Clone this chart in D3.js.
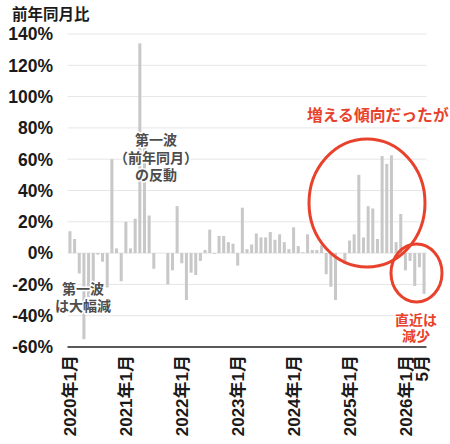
<!DOCTYPE html>
<html>
<head>
<meta charset="utf-8">
<script src="https://cdn.jsdelivr.net/npm/d3@7"></script>
<style>
  body { margin: 0; background: #fff; }
  svg { display: block; }
</style>
</head>
<body>
<div id="chart"></div>
<script>
// 前年同月比 (%), monthly, 2020年1月 – 2026年5月
const yoy2020 = [14, 9, -13, -55, -28, -26, -1, -5.5, -22, 60, 3, -18];
const yoy2021 = [20, 3, 22, 134, 75, 24, -10, 0, 0, -20, -11, 30];
const yoy2022 = [-6.5, -30, -12.5, -14, -5, 2, 15, -0.5, 11, 11, 7, 6];
const yoy2023 = [-8, 29, 2.5, 5.5, 12.5, 10, 10, 13.5, 8.5, 12, 7, 2.5];
const yoy2024 = [16.5, 4.5, 0.5, 12, 2, 2, 5, -13.5, -21.5, -30, 0, -7];
const yoy2025 = [8, 12, 50, 10, 30, 28.5, 9, 62, 57, 62.5, 7, 25];
const yoy2026 = [-11, -5, -21, -9, -26];

const tickIndex = [0, 12, 24, 36, 48, 60, 72, 76];
const tickLabels = ['2020年1月', '2021年1月', '2022年1月', '2023年1月', '2024年1月', '2025年1月', '2026年1月', '5月'];
const yTicks = [140, 120, 100, 80, 60, 40, 20, 0, -20, -40, -60];

const values = [].concat(yoy2020, yoy2021, yoy2022, yoy2023, yoy2024, yoy2025, yoy2026);

const width = 450, height = 444;
const plot = { left: 67.5, right: 426.5, top: 34, bottom: 347 };
const red = '#e8412c';
const latin = "'Liberation Sans', 'Noto Sans CJK JP', sans-serif";
const cjk = "'Noto Sans CJK JP', sans-serif";

const svg = d3.select('#chart')
  .append('svg')
  .attr('width', width)
  .attr('height', height);

const x = d3.scaleBand()
  .domain(values.map((d, i) => i))
  .range([plot.left, plot.right])
  .paddingInner(0.35)
  .paddingOuter(0.2);

const y = d3.scaleLinear()
  .domain([-60, 140])
  .range([plot.bottom, plot.top]);

// gridlines
svg.append('g')
  .selectAll('line')
  .data(yTicks.filter(d => d !== -60))
  .enter()
  .append('line')
  .attr('x1', plot.left)
  .attr('x2', plot.right)
  .attr('y1', d => y(d))
  .attr('y2', d => y(d))
  .attr('stroke', '#e6e6e6')
  .attr('stroke-width', 1);

// y tick labels
svg.append('g')
  .selectAll('text')
  .data(yTicks)
  .enter()
  .append('text')
  .attr('x', 53)
  .attr('y', d => y(d))
  .attr('dy', '0.36em')
  .attr('text-anchor', 'end')
  .attr('font-family', latin)
  .attr('font-weight', 'bold')
  .attr('font-size', 17.5)
  .attr('fill', '#1a1a1a')
  .text(d => d + '%');

// bars
svg.append('g')
  .selectAll('rect')
  .data(values)
  .enter()
  .append('rect')
  .attr('x', (d, i) => x(i))
  .attr('width', x.bandwidth())
  .attr('y', d => y(Math.max(0, d)))
  .attr('height', d => Math.abs(y(d) - y(0)))
  .attr('fill', '#c8c8c8');

// bottom axis line
svg.append('line')
  .attr('x1', plot.left)
  .attr('x2', plot.right)
  .attr('y1', plot.bottom)
  .attr('y2', plot.bottom)
  .attr('stroke', '#222')
  .attr('stroke-width', 1.5);

// x tick labels (rotated)
svg.append('g')
  .selectAll('text')
  .data(tickIndex)
  .enter()
  .append('text')
  .attr('transform', (d, i) => {
    const cx = x(d) + x.bandwidth() / 2 - (i === tickIndex.length - 1 ? 2.5 : 0);
    return `translate(${cx},355) rotate(-90)`;
  })
  .attr('dy', '0.36em')
  .attr('text-anchor', 'end')
  .attr('font-family', latin)
  .attr('font-weight', 'bold')
  .attr('font-size', 17)
  .attr('fill', '#1a1a1a')
  .text((d, i) => tickLabels[i]);

// title
svg.append('text')
  .attr('x', 12)
  .attr('y', 20)
  .attr('font-family', cjk)
  .attr('font-weight', 'bold')
  .attr('font-size', 15.5)
  .attr('fill', '#1a1a1a')
  .text('前年同月比');

// multi-line annotations, one text per line
function note(lines, cx, y0, lh, color, size) {
  lines.forEach((s, i) => {
    svg.append('text')
      .attr('x', cx)
      .attr('y', y0 + i * lh)
      .attr('font-family', cjk)
      .attr('font-weight', 'bold')
      .attr('font-size', size)
      .attr('fill', color)
      .attr('text-anchor', 'middle')
      .attr('stroke', '#fff')
      .attr('stroke-width', 3)
      .attr('stroke-linejoin', 'round')
      .style('paint-order', 'stroke')
      .text(s);
  });
}

note(['第一波', 'は大幅減'], 83, 294, 17, '#4d4d4d', 14);
note(['第一波', '（前年同月）', 'の反動'], 156, 145, 17.5, '#4d4d4d', 14);

// red annotations
svg.append('ellipse')
  .attr('cx', 367)
  .attr('cy', 203)
  .attr('rx', 58)
  .attr('ry', 64)
  .attr('fill', 'none')
  .attr('stroke', red)
  .attr('stroke-width', 3);

svg.append('ellipse')
  .attr('cx', 416.5)
  .attr('cy', 273)
  .attr('rx', 25.5)
  .attr('ry', 29)
  .attr('fill', 'none')
  .attr('stroke', red)
  .attr('stroke-width', 3);

svg.append('text')
  .attr('x', 307)
  .attr('y', 121)
  .attr('font-family', cjk)
  .attr('font-weight', 'bold')
  .attr('font-size', 15.8)
  .attr('fill', red)
  .text('増える傾向だったが');

note(['直近は', '減少'], 416, 325, 15.5, red, 14);
</script>
</body>
</html>
